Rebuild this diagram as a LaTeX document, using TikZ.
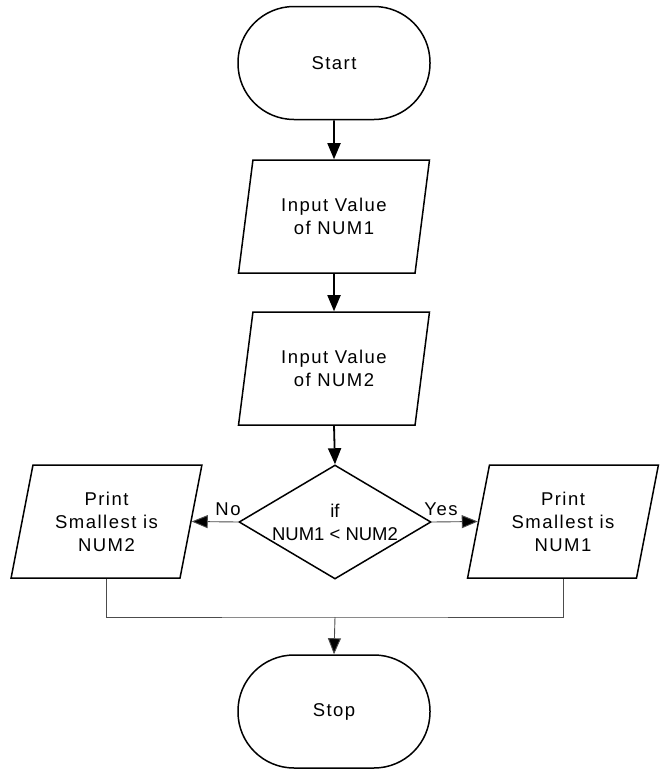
\documentclass[tikz,border=0pt]{standalone}
\usepackage{fontspec}
\setmainfont{Liberation Sans}[LetterSpace=8]
\newfontfamily\tightfont{Liberation Sans}
\usetikzlibrary{shapes.geometric,arrows.meta}
\begin{document}
\begin{tikzpicture}[x=1pt,y=-1pt,
  every node/.style={font=\fontsize{18.5}{23}\selectfont},
  term/.style={draw,line width=1.5pt,rectangle,rounded corners=56pt,minimum width=192pt,minimum height=113pt,inner sep=0pt},
  io/.style={draw,line width=1.5pt,trapezium,trapezium left angle=75.6,trapezium right angle=104.4,trapezium stretches=true,minimum width=191pt,minimum height=113pt,inner sep=0pt,align=center},
  dec/.style={draw,line width=1.5pt,diamond,aspect=1.68,minimum width=192pt,minimum height=114pt,inner sep=0pt,align=center,font=\tightfont\fontsize{18.5}{23}\selectfont},
  flow/.style={line width=1.8pt,-{Triangle[length=16pt,width=13pt]}},
  thinflow/.style={line width=0.9pt,draw=black!70,-{Triangle[length=16pt,width=13pt,fill=black]}},
  merge/.style={line width=0.9pt,draw=black!70},
  lbl/.style={inner sep=0pt}]
\useasboundingbox (0,0) rectangle (659,771);
\node[term] (start) at (334,63) {Start};
\node[io] (in1) at (334,216.5) {Input Value\\of NUM1};
\node[io] (in2) at (334,368.5) {Input Value\\of NUM2};
\node[dec] (dec) at (335,522) {if\\NUM1 < NUM2};
\node[io] (pl) at (106.5,521.5) {Print\\Smallest is\\NUM2};
\node[io] (pr) at (563,521.5) {Print\\Smallest is\\NUM1};
\node[term] (stop) at (334,711.5) {Stop};
\coordinate (m) at (335,617);
\draw[flow] (start.south) -- (in1.north);
\draw[flow] (in1.south) -- (in2.north);
\draw[flow] (in2.south) -- (dec.north);
\draw[thinflow] (dec.west) -- (pl.east) node[lbl,pos=0.22,above=6pt] (no) {No};
\draw[thinflow] (dec.east) -- (pr.west) node[lbl,pos=0.2,above=6pt] (yes) {Yes};
\draw[merge] (pl.south) |- (m) -| (pr.south);
\draw[thinflow] (m) -- (stop.north);
\end{tikzpicture}
\end{document}
